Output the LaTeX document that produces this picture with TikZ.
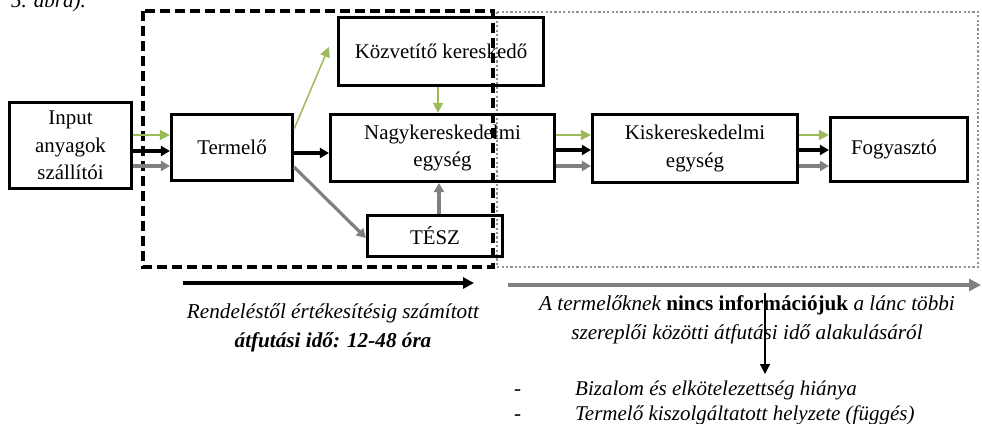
\documentclass[tikz,border=0pt]{standalone}
\usepackage{fontspec}
\setmainfont{Liberation Serif}
\usetikzlibrary{arrows.meta,calc}
\definecolor{ogreen}{HTML}{9BBB59}
\definecolor{dgray}{HTML}{808080}
\definecolor{dotgray}{HTML}{909090}
\begin{document}
\begin{tikzpicture}[x=1pt,y=-1pt,
  box/.style={draw=black,line width=3.2pt,rectangle,inner sep=0pt,align=center,
    font=\fontsize{20.9}{27.5}\selectfont},
  garr/.style={draw=ogreen,line width=1.5pt,-{Triangle[length=10pt,width=10pt]}},
  barr/.style={draw=black,line width=3.2pt,-{Triangle[length=9pt,width=10pt]}},
  grarr/.style={draw=dgray,line width=3.2pt,-{Triangle[length=9pt,width=10pt]}},
  txt/.style={font=\fontsize{21.2}{29}\selectfont\itshape,align=center,inner sep=0pt},
  ltxt/.style={font=\fontsize{21}{25}\selectfont\itshape,inner sep=0pt}
]
\useasboundingbox (0,0) rectangle (982,423);
\fill[white] (0,0) rectangle (982,423);

% cut-off caption at the top
\begin{scope}
\clip (0,0) rectangle (982,423);
\node[ltxt,anchor=base east] (cap) at (86,8) {5. ábra).};
\end{scope}

% frames
\draw[dotgray,line width=2.6pt,dash pattern=on 2.2pt off 2.2pt] (497,12) rectangle (978,267);
\draw[black,line width=3.2pt,dash pattern=on 10pt off 5pt] (143,11) rectangle (493,267);

% boxes
\node[box,minimum width=122pt,minimum height=86pt] (in) at (70.5,145.5) {Input\\anyagok\\szállítói};
\node[box,minimum width=121pt,minimum height=66pt] (term) at (232,147.5) {Termelő};
\node[box,minimum width=205pt,minimum height=68pt] (koz) at (441,51.5) {Közvetítő kereskedő};
\node[box,minimum width=224pt,minimum height=67pt] (nagy) at (442.5,148) {Nagykereskedelmi\\egység};
\node[box,minimum width=135pt,minimum height=41pt] (tesz) at (435,236) {TÉSZ};
\node[box,minimum width=205pt,minimum height=68pt] (kis) at (695,148.5) {Kiskereskedelmi\\egység};
\node[box,minimum width=137pt,minimum height=64pt,text width=130pt,align=left] (fogy) at (899,149.5) {\hspace*{17pt}Fogyasztó};

% Input -> Termelo
\draw[garr] (in.east |- 0,135) -- (term.west |- 0,135);
\draw[barr] (in.east |- 0,151) -- (term.west |- 0,151);
\draw[grarr] (in.east |- 0,166) -- (term.west |- 0,166);

% Termelo -> others
\draw[garr] (term.east |- 0,129) -- ($(koz.west |- 0,47)+(-8,0)$);
\draw[barr] (term.east |- 0,153) -- (nagy.west |- 0,153);
\draw[grarr] (term.east |- 0,167) -- (tesz.west |- 0,238);

% vertical
\draw[garr] (koz.south -| 438,0) -- (nagy.north -| 438,0);
\draw[grarr] (tesz.north -| 439,0) -- (nagy.south -| 439,0);

% Nagy -> Kisker
\draw[garr] (nagy.east |- 0,135) -- (kis.west |- 0,135);
\draw[barr] (nagy.east |- 0,150) -- (kis.west |- 0,150);
\draw[grarr] (nagy.east |- 0,166) -- (kis.west |- 0,166);

% Kisker -> Fogy
\draw[garr] (kis.east |- 0,135) -- (fogy.west |- 0,135);
\draw[barr] (kis.east |- 0,150) -- (fogy.west |- 0,150);
\draw[grarr] (kis.east |- 0,166) -- (fogy.west |- 0,166);

% bottom arrows
\coordinate (b1s) at (183,283);
\coordinate (b1e) at (474,283);
\draw[black,line width=3.2pt,-{Triangle[length=11pt,width=11pt]}] (b1s) -- (b1e);
\coordinate (b2s) at (508,285);
\coordinate (b2e) at (981,285);
\draw[dgray,line width=3.2pt,-{Triangle[length=12pt,width=12pt]}] (b2s) -- (b2e);

% texts
\node[txt] (t1) at (333,327.5) {Rendeléstől értékesítésig számított\\\textbf{átfutási idő: 12-48 óra}};
\node[txt] (t2) at (747,320) {A termelőknek \textbf{\upshape nincs információjuk} a lánc többi\\szereplői közötti átfutási idő alakulásáról};

\coordinate (dstart) at (765,293);
\coordinate (dend) at (765,374);
\draw[black,line width=1.3pt,-{Triangle[length=10pt,width=10pt]}] (dstart) -- (dend);

\node[ltxt,anchor=base west] (d1) at (514,395) {-};
\node[ltxt,anchor=base west] (l1) at (575,395) {Bizalom és elkötelezettség hiánya};
\node[ltxt,anchor=base west] (d2) at (514,420) {-};
\node[ltxt,anchor=base west] (l2) at (575,420) {Termelő kiszolgáltatott helyzete (függés)};
\end{tikzpicture}
\end{document}
